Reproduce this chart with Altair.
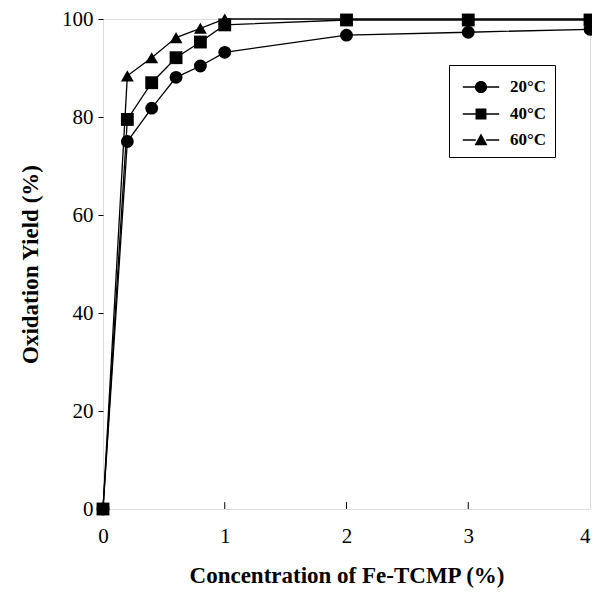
import altair as alt
import pandas as pd

conc = [0, 0.2, 0.4, 0.6, 0.8, 1, 2, 3, 4]
y20 = [0, 75.0, 81.8, 88.1, 90.4, 93.2, 96.7, 97.3, 97.9]
y40 = [0, 79.5, 87.0, 92.1, 95.3, 98.8, 99.8, 99.8, 99.8]
y60 = [0, 88.4, 92.1, 96.2, 98.1, 100, 100, 100, 100]
series = ["20°C", "40°C", "60°C"]
x_ticks = [0, 1, 2, 3, 4]
y_ticks = [0, 20, 40, 60, 80, 100]
inner_ticks = [1, 2, 3]

data_by_series = dict(zip(series, [y20, y40, y60]))
draw_order = ["60°C", "20°C", "40°C"]
rows = []
for name in draw_order:
    for xv, yv in zip(conc, data_by_series[name]):
        rows.append({"conc": xv, "yield": yv, "series": name})
df = pd.DataFrame(rows)

FONT = "Liberation Serif"

xs = alt.Scale(domain=[0, 4], nice=False, zero=False)
ys_ = alt.Scale(domain=[0, 100], nice=False)

x_axis = alt.Axis(values=x_ticks, format="d", title="Concentration of Fe-TCMP (%)",
                  grid=False, domain=False, ticks=False, labelFont=FONT,
                  labelFontSize=21, labelColor="black", labelPadding=16,
                  labelAlign=alt.expr("datum.value == 4 ? 'right' : 'center'"),
                  titleFont=FONT, titleFontSize=23, titleFontWeight="bold",
                  titleColor="black", titlePadding=18, labelFlush=False)
y_axis = alt.Axis(values=y_ticks, format="d", title="Oxidation Yield (%)", grid=False,
                  domain=False, tickSize=5, tickColor="black", labelFont=FONT,
                  labelFontSize=21, labelColor="black", labelPadding=5,
                  titleFont=FONT, titleFontSize=23, titleFontWeight="bold",
                  titleColor="black", titlePadding=19, labelFlush=False)

base = alt.Chart(df)

lines = base.mark_line(color="black", strokeWidth=1.3).encode(
    x=alt.X("conc:Q", scale=xs, axis=x_axis),
    y=alt.Y("yield:Q", scale=ys_, axis=y_axis),
    detail="series:N",
)

points = base.mark_point(filled=True, color="black", opacity=1, size=165).encode(
    x=alt.X("conc:Q", scale=xs),
    y=alt.Y("yield:Q", scale=ys_),
    shape=alt.Shape("series:N", scale=alt.Scale(domain=series,
                    range=["circle", "square", "triangle-up"]), legend=None),
)

seg = "M-1.4,-0.05H-0.4V0.05H-1.4ZM0.4,-0.05H1.4V0.05H0.4Z"
circ = seg + "M-0.47,0A0.47,0.47 0 1,1 0.47,0A0.47,0.47 0 1,1 -0.47,0Z"
sq = seg + "M-0.42,-0.42H0.42V0.42H-0.42Z"
tri = seg + "M0,-0.5L0.5,0.4H-0.5Z"

legend_layer = base.mark_point(filled=True, color="black", opacity=0, size=676).encode(
    x=alt.X("conc:Q", scale=xs),
    y=alt.Y("yield:Q", scale=ys_),
    shape=alt.Shape("series:N", scale=alt.Scale(domain=series, range=[circ, sq, tri]),
                    legend=alt.Legend(title=None, orient="none", legendX=346, legendY=46,
                                      strokeColor="black", padding=8,
                                      symbolFillColor="black", symbolOpacity=1,
                                      symbolSize=676, symbolOffset=10,
                                      labelFont=FONT, labelFontSize=17,
                                      labelFontWeight="bold", labelColor="black",
                                      labelOffset=15, rowPadding=3)),
)

tick_df = pd.DataFrame({"t": inner_ticks, "lo": [0] * 3, "hi": [1.4] * 3})
inner = alt.Chart(tick_df).mark_rule(color="black", strokeWidth=1).encode(
    x=alt.X("t:Q", scale=xs),
    y=alt.Y("lo:Q", scale=ys_),
    y2="hi:Q",
)

chart = alt.layer(lines, inner, points, legend_layer).resolve_scale(
    shape="independent"
).properties(
    width=487, height=490,
    autosize=alt.AutoSizeParams(type="none"),
    padding={"left": 95, "top": 11, "right": 2, "bottom": 83},
).configure_view(stroke="black", strokeWidth=1.5).configure(background="white")

chart.save("out.html", embed_options={"renderer": "svg", "actions": False})
